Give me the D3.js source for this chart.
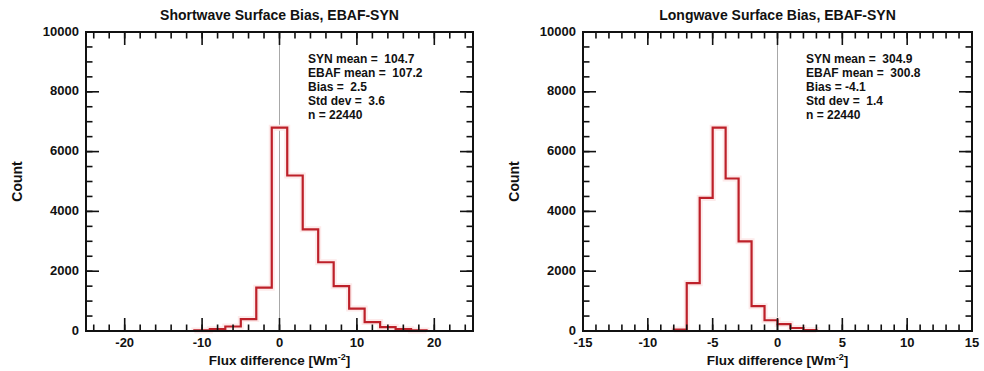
<!DOCTYPE html>
<html>
<head>
<meta charset="utf-8">
<script src="https://cdn.jsdelivr.net/npm/d3@7"></script>
<style>
  body { margin: 0; background: #fff; }
  svg { display: block; font-family: 'Liberation Sans', Arial, Helvetica, sans-serif; }
  text { font-weight: bold; fill: #111; }
</style>
</head>
<body>
<div id="chart"></div>
<script>
// shortwave: bins of 2 Wm-2, given by centre
const swCenters = [-10, -8, -6, -4, -2, 0, 2, 4, 6, 8, 10, 12, 14, 16, 18];
const swCounts = [20, 60, 150, 400, 1450, 6800, 5200, 3400, 2300, 1500, 750, 300, 130, 60, 20];
const swStats = ['SYN mean =  104.7', 'EBAF mean =  107.2', 'Bias =  2.5', 'Std dev =  3.6', 'n = 22440'];

// longwave: bins of 1 Wm-2
const lwCenters = [-7.5, -6.5, -5.5, -4.5, -3.5, -2.5, -1.5, -0.5, 0.5, 1.5, 2.5];
const lwCounts = [50, 1600, 4450, 6800, 5100, 3000, 830, 360, 230, 100, 30];
const lwStats = ['SYN mean =  304.9', 'EBAF mean =  300.8', 'Bias = -4.1', 'Std dev =  1.4', 'n = 22440'];

const yMajor = [0, 2000, 4000, 6000, 8000, 10000];

const W = 984, H = 371;
const svg = d3.select('#chart').append('svg').attr('width', W).attr('height', H);
svg.append('rect').attr('width', W).attr('height', H).attr('fill', '#fff');

const panels = [
  {
    title: 'Shortwave Surface Bias, EBAF-SYN',
    left: 86, right: 473, domain: [-25, 25], major: 10, minor: 2, binW: 2,
    centers: swCenters, counts: swCounts, stats: swStats, statX: 308, countX: 22,
  },
  {
    title: 'Longwave Surface Bias, EBAF-SYN',
    left: 583, right: 972, domain: [-15, 15], major: 5, minor: 1, binW: 1,
    centers: lwCenters, counts: lwCounts, stats: lwStats, statX: 806, countX: 519,
  },
];

const plotTop = 32, plotBottom = 331;
const majLen = 13, minLen = 6.5;

panels.forEach((p) => {
  const x = d3.scaleLinear().domain(p.domain).range([p.left, p.right]);
  const y = d3.scaleLinear().domain([0, 10000]).range([plotBottom, plotTop]);
  const g = svg.append('g');

  const xMajor = d3.range(p.domain[0], p.domain[1] + 0.001, 1).filter((v) => v % p.major === 0);
  const xMinor = d3.range(Math.ceil(p.domain[0] / p.minor) * p.minor, p.domain[1] + 0.001, p.minor);
  const yMinor = d3.range(0, 10001, 500);

  // zero line
  g.append('line')
    .attr('x1', x(0)).attr('x2', x(0))
    .attr('y1', y(0)).attr('y2', y(10000))
    .attr('stroke', '#a8a8a8').attr('stroke-width', 1);

  // histogram outline
  const pts = [[p.centers[0] - p.binW / 2, 0]];
  p.centers.forEach((c, i) => {
    pts.push([c - p.binW / 2, p.counts[i]]);
    pts.push([c + p.binW / 2, p.counts[i]]);
  });
  pts.push([p.centers[p.centers.length - 1] + p.binW / 2, 0]);
  const line = d3.line().x((d) => x(d[0])).y((d) => y(d[1]));
  g.append('path').attr('d', line(pts))
    .attr('fill', 'none').attr('stroke', '#fdeaea').attr('stroke-width', 6)
    .attr('stroke-linejoin', 'miter');
  g.append('path').attr('d', line(pts))
    .attr('fill', 'none').attr('stroke', '#bd2029').attr('stroke-width', 2.2)
    .attr('stroke-linejoin', 'miter');

  // ticks (inward, on all four sides)
  const tk = g.append('g').attr('stroke', '#111').attr('stroke-width', 1.6);
  const xt = (vals, len) => {
    tk.selectAll(null).data(vals).join('line')
      .attr('x1', (d) => x(d)).attr('x2', (d) => x(d))
      .attr('y1', plotBottom).attr('y2', plotBottom - len);
    tk.selectAll(null).data(vals).join('line')
      .attr('x1', (d) => x(d)).attr('x2', (d) => x(d))
      .attr('y1', plotTop).attr('y2', plotTop + len);
  };
  const yt = (vals, len) => {
    tk.selectAll(null).data(vals).join('line')
      .attr('y1', (d) => y(d)).attr('y2', (d) => y(d))
      .attr('x1', p.left).attr('x2', p.left + len);
    tk.selectAll(null).data(vals).join('line')
      .attr('y1', (d) => y(d)).attr('y2', (d) => y(d))
      .attr('x1', p.right).attr('x2', p.right - len);
  };
  xt(xMinor, minLen);
  xt(xMajor, majLen);
  yt(yMinor, minLen);
  yt(yMajor, majLen);

  // frame
  g.append('rect')
    .attr('x', p.left).attr('y', plotTop)
    .attr('width', p.right - p.left).attr('height', plotBottom - plotTop)
    .attr('fill', 'none').attr('stroke', '#111').attr('stroke-width', 2);

  // tick labels
  g.selectAll(null).data(xMajor).join('text')
    .attr('x', (d) => x(d)).attr('y', 347)
    .attr('text-anchor', 'middle').attr('font-size', 13)
    .text((d) => d);
  g.selectAll(null).data(yMajor).join('text')
    .attr('x', p.left - 7).attr('y', (d) => y(d) + 3.5)
    .attr('text-anchor', 'end').attr('font-size', 13)
    .text((d) => d);

  // titles
  g.append('text')
    .attr('x', (p.left + p.right) / 2).attr('y', 20)
    .attr('text-anchor', 'middle').attr('font-size', 14)
    .text(p.title);
  const xl = g.append('text')
    .attr('x', (p.left + p.right) / 2).attr('y', 365)
    .attr('text-anchor', 'middle').attr('font-size', 13.5);
  xl.append('tspan').text('Flux difference [Wm');
  xl.append('tspan').attr('dy', -5).attr('font-size', 9).text('-2');
  xl.append('tspan').attr('dy', 5).text(']');
  g.append('text')
    .attr('transform', `translate(${p.countX},${(plotTop + plotBottom) / 2}) rotate(-90)`)
    .attr('text-anchor', 'middle').attr('font-size', 14)
    .text('Count');

  // stats box
  g.selectAll(null).data(p.stats).join('text')
    .attr('x', p.statX).attr('y', (d, i) => 63 + i * 14)
    .attr('font-size', 12)
    .style('white-space', 'pre')
    .text((d) => d);
});
</script>
</body>
</html>
